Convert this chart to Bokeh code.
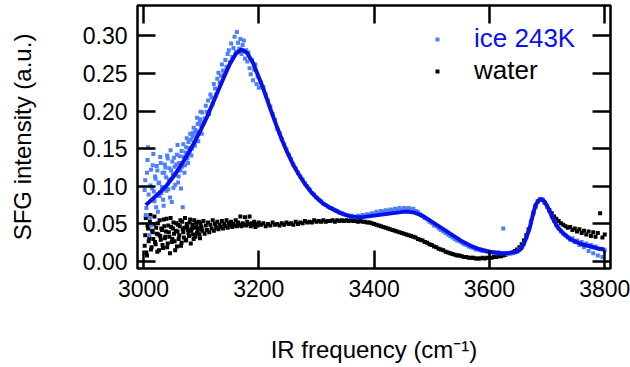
import numpy as np
from bokeh.plotting import figure
from bokeh.models import (Range1d, LinearAxis, FixedTicker, PrintfTickFormatter,
                          CustomJSTickFormatter, Legend, LegendItem)
from bokeh.embed import file_html
from bokeh.resources import INLINE

FONT = "Liberation Sans"

# measurement grids: fine in the noisy low-frequency part, coarser afterwards
grid_lo_start, grid_lo_step = 3002, 2
grid_hi_start, grid_hi_step = 3204, 4
grid_b_start, grid_b_step = 3003, 2   # second scan of the noisy region

ice_lo = [
    0.095, 0.062, 0.118, 0.152, 0.035, 0.101, 0.048, 0.128, 0.093, 0.113,
    0.072, 0.121, 0.104, 0.087, 0.131, 0.099, 0.082, 0.118, 0.125, 0.094,
    0.137, 0.109, 0.085, 0.121, 0.133, 0.098, 0.126, 0.115, 0.142, 0.105,
    0.131, 0.121, 0.147, 0.072, 0.139, 0.128, 0.152, 0.137, 0.159, 0.144,
    0.162, 0.150, 0.171, 0.158, 0.175, 0.166, 0.183, 0.172, 0.189, 0.181,
    0.198, 0.185, 0.190, 0.207, 0.199, 0.214, 0.196, 0.222, 0.218, 0.209,
    0.236, 0.230, 0.222, 0.243, 0.251, 0.238, 0.247, 0.262, 0.254, 0.249,
    0.268, 0.259, 0.276, 0.281, 0.265, 0.290, 0.272, 0.284, 0.299, 0.279,
    0.305, 0.291, 0.283, 0.296, 0.276, 0.288, 0.294, 0.270, 0.281, 0.266,
    0.278, 0.257, 0.249, 0.268, 0.241, 0.255, 0.262, 0.236, 0.246, 0.231,
]
ice_b = [
    0.108, 0.071, 0.135, 0.089, 0.058, 0.122, 0.097, 0.143, 0.080, 0.110,
    0.127, 0.066, 0.105, 0.139, 0.091, 0.118, 0.074, 0.129, 0.112, 0.141,
    0.096, 0.124, 0.148, 0.079, 0.116, 0.138, 0.102, 0.129, 0.155, 0.113,
    0.140, 0.097, 0.126, 0.156, 0.118, 0.145, 0.164, 0.131, 0.151, 0.170,
    0.141, 0.166, 0.178, 0.154, 0.172, 0.191, 0.160, 0.184, 0.199, 0.170,
]
ice_hi = [
    0.238, 0.232, 0.222, 0.214, 0.206, 0.196, 0.188, 0.177, 0.171, 0.163,
    0.156, 0.149, 0.142, 0.136, 0.129, 0.124, 0.118, 0.113, 0.109, 0.104,
    0.100, 0.096, 0.091, 0.089, 0.085, 0.082, 0.080, 0.077, 0.075, 0.073,
    0.071, 0.070, 0.068, 0.067, 0.065, 0.064, 0.063, 0.062, 0.061, 0.061,
    0.060, 0.059, 0.061, 0.060, 0.062, 0.061, 0.063, 0.062, 0.064, 0.063,
    0.066, 0.064, 0.067, 0.066, 0.068, 0.067, 0.069, 0.068, 0.070, 0.069,
    0.071, 0.069, 0.071, 0.070, 0.071, 0.069, 0.070, 0.067, 0.066, 0.063,
    0.061, 0.058, 0.056, 0.053, 0.051, 0.048, 0.047, 0.044, 0.042, 0.040,
    0.038, 0.036, 0.034, 0.032, 0.030, 0.028, 0.027, 0.025, 0.023, 0.022,
    0.020, 0.019, 0.018, 0.016, 0.016, 0.015, 0.014, 0.014, 0.013, 0.013,
    0.012, 0.012, 0.011, 0.012, 0.011, 0.044, 0.011, 0.010, 0.011, 0.011,
    0.012, 0.013, 0.016, 0.019, 0.024, 0.032, 0.041, 0.053, 0.064, 0.074,
    0.080, 0.083, 0.082, 0.078, 0.073, 0.067, 0.060, 0.054, 0.048, 0.044,
    0.040, 0.037, 0.035, 0.032, 0.029, 0.031, 0.026, 0.028, 0.022, 0.026,
    0.019, 0.024, 0.014, 0.022, 0.011, 0.020, 0.008, 0.017, 0.006, 0.015,
]
water_lo = [
    0.021, 0.058, 0.008, 0.044, 0.031, 0.062, 0.019, 0.039, 0.050, 0.026,
    0.045, 0.013, 0.036, 0.055, 0.029, 0.042, 0.018, 0.047, 0.033, 0.057,
    0.024, 0.039, 0.011, 0.046, 0.030, 0.052, 0.027, 0.041, 0.020, 0.049,
    0.035, 0.055, 0.025, 0.043, 0.032, 0.058, 0.029, 0.046, 0.038, 0.052,
    0.024, 0.044, 0.036, 0.055, 0.033, 0.047, 0.040, 0.053, 0.031, 0.046,
    0.041, 0.054, 0.037, 0.048, 0.042, 0.052, 0.039, 0.049, 0.044, 0.055,
    0.041, 0.050, 0.045, 0.053, 0.043, 0.049, 0.046, 0.054, 0.044, 0.050,
    0.047, 0.055, 0.045, 0.051, 0.048, 0.053, 0.046, 0.050, 0.048, 0.055,
    0.047, 0.052, 0.049, 0.060, 0.047, 0.051, 0.049, 0.059, 0.048, 0.053,
    0.050, 0.060, 0.047, 0.051, 0.049, 0.053, 0.046, 0.050, 0.048, 0.052,
]
water_b = [
    0.035, 0.012, 0.048, 0.027, 0.053, 0.016, 0.041, 0.030, 0.060, 0.023,
    0.037, 0.051, 0.015, 0.034, 0.044, 0.022, 0.056, 0.031, 0.040, 0.019,
    0.048, 0.033, 0.058, 0.026, 0.044, 0.037, 0.015, 0.051, 0.040, 0.030,
    0.047, 0.021, 0.053, 0.039, 0.045, 0.028, 0.050, 0.042, 0.034, 0.056,
    0.041, 0.049, 0.030, 0.045, 0.052, 0.038, 0.044, 0.036, 0.051, 0.043,
]
water_hi = [
    0.049, 0.051, 0.047, 0.050, 0.048, 0.052, 0.049, 0.050, 0.048, 0.051,
    0.049, 0.052, 0.050, 0.051, 0.049, 0.053, 0.050, 0.052, 0.051, 0.054,
    0.052, 0.053, 0.052, 0.055, 0.053, 0.054, 0.053, 0.055, 0.053, 0.054,
    0.054, 0.055, 0.053, 0.055, 0.054, 0.055, 0.054, 0.055, 0.054, 0.055,
    0.054, 0.054, 0.053, 0.054, 0.053, 0.053, 0.052, 0.052, 0.051, 0.050,
    0.049, 0.048, 0.047, 0.046, 0.045, 0.044, 0.043, 0.042, 0.041, 0.040,
    0.039, 0.038, 0.037, 0.036, 0.035, 0.034, 0.033, 0.032, 0.030, 0.029,
    0.028, 0.026, 0.025, 0.023, 0.022, 0.020, 0.019, 0.017, 0.016, 0.015,
    0.013, 0.012, 0.011, 0.010, 0.009, 0.008, 0.008, 0.007, 0.006, 0.006,
    0.005, 0.005, 0.005, 0.004, 0.004, 0.004, 0.005, 0.004, 0.005, 0.005,
    0.005, 0.006, 0.006, 0.007, 0.007, 0.008, 0.009, 0.010, 0.011, 0.012,
    0.014, 0.016, 0.019, 0.023, 0.028, 0.035, 0.043, 0.053, 0.064, 0.073,
    0.080, 0.083, 0.082, 0.078, 0.073, 0.068, 0.064, 0.060, 0.057, 0.054,
    0.051, 0.049, 0.047, 0.045, 0.046, 0.042, 0.044, 0.040, 0.043, 0.038,
    0.041, 0.036, 0.040, 0.034, 0.039, 0.033, 0.038, 0.064, 0.032, 0.036,
]

fit_freq = [3004, 3010, 3020, 3030, 3040, 3050, 3060, 3070, 3080, 3090, 3100,
            3110, 3120, 3130, 3140, 3150, 3160, 3170, 3180, 3190, 3200,
            3210, 3220, 3230, 3240, 3250, 3260, 3270, 3280, 3290, 3300,
            3310, 3320, 3330, 3340, 3350, 3360, 3370, 3380, 3390, 3400,
            3410, 3420, 3430, 3440, 3450, 3460, 3470, 3480, 3490, 3500,
            3510, 3520, 3530, 3540, 3550, 3560, 3570, 3580, 3590, 3600,
            3610, 3620, 3630, 3640, 3650,
            3655, 3660, 3665, 3670, 3675, 3680, 3685, 3690, 3695, 3700,
            3705, 3710, 3715,
            3720, 3730, 3740, 3750, 3760, 3770, 3780, 3790, 3800]
fit_ice = [0.075, 0.079, 0.086, 0.093, 0.101, 0.111, 0.122, 0.134, 0.147, 0.161, 0.176,
           0.192, 0.210, 0.228, 0.246, 0.263, 0.276, 0.282, 0.277, 0.264, 0.245,
           0.225, 0.203, 0.182, 0.162, 0.144, 0.128, 0.115, 0.103, 0.093, 0.085,
           0.078, 0.073, 0.069, 0.065, 0.062, 0.060, 0.059, 0.059, 0.060, 0.061,
           0.062, 0.063, 0.064, 0.065, 0.066, 0.066, 0.065, 0.062, 0.058, 0.053,
           0.048, 0.043, 0.038, 0.033, 0.028, 0.024, 0.020, 0.017, 0.015, 0.013,
           0.012, 0.011, 0.011, 0.012, 0.014,
           0.017, 0.024, 0.034, 0.045, 0.061, 0.075, 0.081, 0.083, 0.080, 0.074,
           0.066, 0.057, 0.050,
           0.044, 0.036, 0.030, 0.026, 0.023, 0.021, 0.019, 0.017, 0.016]

x_ticks = [3000, 3200, 3400, 3600, 3800]
y_ticks = [0.00, 0.05, 0.10, 0.15, 0.20, 0.25, 0.30]

ICE_PT = "#4D7FFF"
ICE_LINE = "#0A10E8"
ICE_TEXT = "#0A10F0"


def grid(start, step, n):
    return start + step * np.arange(n)


ice_x = np.concatenate([grid(grid_lo_start, grid_lo_step, len(ice_lo)),
                        grid(grid_b_start, grid_b_step, len(ice_b)),
                        grid(grid_hi_start, grid_hi_step, len(ice_hi))])
ice_y = np.array(ice_lo + ice_b + ice_hi)
water_x = np.concatenate([grid(grid_lo_start, grid_lo_step, len(water_lo)),
                          grid(grid_b_start, grid_b_step, len(water_b)),
                          grid(grid_hi_start, grid_hi_step, len(water_hi))])
water_y = np.array(water_lo + water_b + water_hi)

p = figure(width=630, height=367, x_range=Range1d(2989.6, 3810),
           y_range=Range1d(-0.0093, 0.3404), output_backend="svg",
           toolbar_location=None, min_border_left=137, min_border_right=20,
           min_border_top=5, min_border_bottom=99)
p.xgrid.visible = False
p.ygrid.visible = False
p.outline_line_color = "black"
p.outline_line_width = 2.5
p.outline_line_alpha = 1.0
p.background_fill_color = "white"
p.border_fill_color = "white"


def style(ax, ticks, fmt=None):
    ax.ticker = FixedTicker(ticks=ticks)
    if fmt is not None:
        ax.formatter = fmt
    ax.axis_line_color = None
    ax.major_tick_in = 18
    ax.major_tick_out = 0
    ax.minor_tick_in = 0
    ax.minor_tick_out = 0
    ax.major_tick_line_width = 2.5
    ax.major_tick_line_color = "black"
    ax.major_label_text_font = FONT
    ax.major_label_text_color = "black"
    ax.axis_label_text_font = FONT
    ax.axis_label_text_font_style = "normal"
    ax.axis_label_text_color = "black"


xa = p.xaxis[0]
style(xa, x_ticks, PrintfTickFormatter(format="%d"))
xa.major_label_text_font_size = "23px"
xa.major_label_standoff = 11
xa.axis_label = "IR frequency (cm⁻¹)"
xa.axis_label_text_font_size = "24px"
xa.axis_label_standoff = 36

ya = p.yaxis[0]
style(ya, y_ticks, PrintfTickFormatter(format="%.2f"))
ya.major_label_text_font_size = "23px"
ya.major_label_standoff = 10
ya.axis_label = "SFG intensity (a.u.)"
ya.axis_label_text_font_size = "24px"
ya.axis_label_standoff = 44

blank = CustomJSTickFormatter(code="return ''")
top = LinearAxis()
style(top, x_ticks, blank)
top.major_label_text_font_size = "0px"
top.major_label_standoff = 0
p.add_layout(top, "above")
right = LinearAxis()
style(right, y_ticks, blank)
right.major_label_text_font_size = "0px"
right.major_label_standoff = 0
p.add_layout(right, "right")

water_r = p.scatter(water_x, water_y, marker="square", size=4,
                    fill_color="black", line_color=None)
ice_r = p.scatter(ice_x, ice_y, marker="square", size=4,
                  fill_color=ICE_PT, line_color=None)
p.line(fit_freq, fit_ice, line_color=ICE_LINE, line_width=4)


def make_legend(label, r, color, y):
    lg = Legend(items=[LegendItem(label=label, renderers=[r])],
                location=(295, y), padding=0, margin=0, spacing=0,
                glyph_width=10, glyph_height=30, label_height=30,
                label_standoff=32, border_line_alpha=0,
                background_fill_alpha=0)
    lg.label_text_font = FONT
    lg.label_text_font_size = "26px"
    lg.label_text_color = color
    return lg


p.add_layout(make_legend("ice 243K", ice_r, ICE_TEXT, 214))
p.add_layout(make_legend("water", water_r, "black", 182))

open("out.html", "w").write(file_html(p, INLINE))
